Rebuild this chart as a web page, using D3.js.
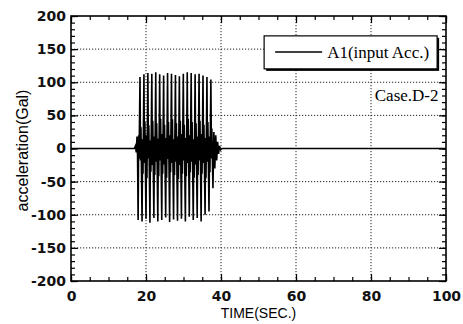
<!DOCTYPE html>
<html>
<head>
<meta charset="utf-8">
<script src="https://cdn.jsdelivr.net/npm/d3@7"></script>
<style>
  body { margin: 0; background: #fff; }
  svg { display: block; }
</style>
</head>
<body>
<div id="chart"></div>
<script>
// axis ranges and ticks
const xDomain = [0, 100];
const yDomain = [-200, 200];
const xMajor = [0, 20, 40, 60, 80, 100];
const yMajor = [-200, -150, -100, -50, 0, 50, 100, 150, 200];
const xGrid = [20, 40, 60, 80];
const yGrid = [-150, -100, -50, 50, 100, 150];

// A1 input acceleration record, [time (s), acceleration (Gal)]
const accel = [
  [0, 0], [10, 0], [16.9, 0], [17.2, 4], [17.4, -6], [17.6, 18], [17.75, -12], [17.9, -108],
  [18.05, 20], [18.15, -15], [18.4, 108], [18.55, -18], [18.65, 32], [18.95, -110], [19.1, 14], [19.2, -38],
  [19.45, 112], [19.6, -22], [19.7, 40], [20.0, -106], [20.15, 20], [20.25, -45],
  [20.5, 114], [20.65, -15], [20.75, 35], [21.05, -112], [21.2, 12], [21.3, -35],
  [21.55, 113], [21.7, -25], [21.8, 42], [22.1, -105], [22.25, 18], [22.35, -40],
  [22.6, 115], [22.75, -20], [22.85, 38], [23.15, -110], [23.3, 15], [23.4, -42],
  [23.65, 112], [23.8, -18], [23.9, 45], [24.2, -108], [24.35, 22], [24.45, -38],
  [24.7, 110], [24.85, -24], [24.95, 36], [25.25, -104], [25.4, 16], [25.5, -44],
  [25.75, 114], [25.9, -16], [26.0, 40], [26.3, -111], [26.45, 20], [26.55, -36],
  [26.8, 113], [26.95, -22], [27.05, 44], [27.35, -107], [27.5, 14], [27.6, -40],
  [27.85, 111], [28.0, -20], [28.1, 38], [28.4, -109], [28.55, 18], [28.65, -46],
  [28.9, 109], [29.05, -25], [29.15, 42], [29.45, -106], [29.6, 22], [29.7, -38],
  [29.95, 113], [30.1, -18], [30.2, 36], [30.5, -110], [30.65, 16], [30.75, -42],
  [31.0, 115], [31.15, -22], [31.25, 45], [31.55, -103], [31.7, 20], [31.8, -36],
  [32.05, 114], [32.2, -20], [32.3, 40], [32.6, -108], [32.75, 14], [32.85, -44],
  [33.1, 112], [33.25, -24], [33.35, 38], [33.65, -105], [33.8, 18], [33.9, -40],
  [34.15, 113], [34.3, -18], [34.4, 42], [34.7, -110], [34.85, 22], [34.95, -38],
  [35.2, 110], [35.35, -22], [35.45, 36], [35.75, -100], [35.9, 16], [36.0, -45],
  [36.25, 108], [36.4, -20], [36.5, 40], [36.8, -95], [36.95, 18], [37.05, -36],
  [37.3, 104], [37.45, -15], [37.55, 30], [37.85, -60],
  [38.1, 25], [38.35, -30], [38.6, 20], [38.85, -18], [39.1, 10], [39.35, -8],
  [39.6, 4], [39.9, -2], [40.3, 0], [100, 0]
];

const legendLabel = "A1(input Acc.)";
const caseLabel = "Case.D-2";
const xTitle = "TIME(SEC.)";
const yTitle = "acceleration(Gal)";

const W = 463, H = 324;
const margin = { top: 16, right: 17, bottom: 43, left: 71 };
const width = W - margin.left - margin.right;
const height = H - margin.top - margin.bottom;

const svg = d3.select("#chart").append("svg")
  .attr("width", W)
  .attr("height", H);

const g = svg.append("g")
  .attr("transform", "translate(" + margin.left + "," + margin.top + ")");

const x = d3.scaleLinear().domain(xDomain).range([0, width]);
const y = d3.scaleLinear().domain(yDomain).range([height, 0]);

// dotted grid
g.append("g").selectAll("line.vg")
  .data(xGrid).join("line")
  .attr("x1", d => x(d)).attr("x2", d => x(d))
  .attr("y1", 0).attr("y2", height)
  .attr("stroke", "#222").attr("stroke-width", 1)
  .attr("stroke-dasharray", "1.2,1.8");

g.append("g").selectAll("line.hg")
  .data(yGrid).join("line")
  .attr("x1", 0).attr("x2", width)
  .attr("y1", d => y(d)).attr("y2", d => y(d))
  .attr("stroke", "#222").attr("stroke-width", 1)
  .attr("stroke-dasharray", "1.2,1.8");

// minor / major inward ticks on all four sides
const xMinor = d3.range(0, 101, 5);
const yMinor = d3.range(-200, 201, 10);

function ticks(axisFn, scale, vals, size, tr) {
  const a = g.append("g")
    .attr("transform", tr)
    .call(axisFn(scale).tickValues(vals).tickSize(size).tickFormat(""));
  a.select(".domain").remove();
  a.selectAll("line").attr("stroke", "#000").attr("stroke-width", 1.2);
}
ticks(d3.axisBottom, x, xMinor, -4, "translate(0," + height + ")");
ticks(d3.axisTop, x, xMinor, -4, "translate(0,0)");
ticks(d3.axisLeft, y, yMinor, -4, "translate(0,0)");
ticks(d3.axisRight, y, yMinor, -4, "translate(" + width + ",0)");

// labelled axes (plain hyphen minus like the original)
const fmt = d => String(d);
const xAxis = g.append("g")
  .attr("transform", "translate(0," + height + ")")
  .call(d3.axisBottom(x).tickValues(xMajor).tickSize(-7).tickPadding(7).tickFormat(fmt));
const yAxis = g.append("g")
  .call(d3.axisLeft(y).tickValues(yMajor).tickSize(-7).tickPadding(5).tickFormat(fmt));
ticks(d3.axisTop, x, xMajor, -7, "translate(0,0)");
ticks(d3.axisRight, y, yMajor, -7, "translate(" + width + ",0)");

[xAxis, yAxis].forEach(a => {
  a.select(".domain").remove();
  a.selectAll("line").attr("stroke", "#000").attr("stroke-width", 1.2);
  a.selectAll("text")
    .attr("fill", "#111")
    .style("font-family", "'DejaVu Sans', sans-serif")
    .style("font-weight", "bold")
    .style("font-size", "14px");
});
xAxis.selectAll("text").attr("dy", "0.9em");

// signal
const line = d3.line()
  .x(d => x(d[0]))
  .y(d => y(d[1]));

g.append("path")
  .datum(accel)
  .attr("d", line)
  .attr("fill", "none")
  .attr("stroke", "#000")
  .attr("stroke-width", 1.6);

// frame
g.append("rect")
  .attr("x", 0).attr("y", 0)
  .attr("width", width).attr("height", height)
  .attr("fill", "none")
  .attr("stroke", "#000")
  .attr("stroke-width", 1.6);

// legend
const lg = g.append("g").attr("transform", "translate(" + (x(51.5)) + "," + (y(170)) + ")");
lg.append("rect")
  .attr("x", 2).attr("y", 2).attr("width", 173).attr("height", 33)
  .attr("fill", "#000");
lg.append("rect")
  .attr("x", 0).attr("y", 0).attr("width", 173).attr("height", 33)
  .attr("fill", "#fff").attr("stroke", "#000").attr("stroke-width", 1.2);
lg.append("line")
  .attr("x1", 11).attr("x2", 58).attr("y1", 16).attr("y2", 16)
  .attr("stroke", "#000").attr("stroke-width", 1.5);
lg.append("text")
  .attr("x", 63).attr("y", 22)
  .style("font-family", "'Liberation Serif', 'Times New Roman', serif")
  .style("font-size", "17px")
  .text(legendLabel);

g.append("text")
  .attr("x", x(98)).attr("y", y(72))
  .attr("text-anchor", "end")
  .style("font-family", "'Liberation Serif', 'Times New Roman', serif")
  .style("font-size", "17px")
  .text(caseLabel);

// axis titles
svg.append("text")
  .attr("x", margin.left + x(50)).attr("y", 318)
  .attr("text-anchor", "middle")
  .style("font-family", "'Liberation Sans', Arial, sans-serif")
  .style("font-size", "14px")
  .text(xTitle);

svg.append("text")
  .attr("transform", "translate(27.5," + (margin.top + y(-3)) + ") rotate(-90)")
  .attr("text-anchor", "middle")
  .style("font-family", "'Liberation Sans', Arial, sans-serif")
  .style("font-size", "16px")
  .text(yTitle);
</script>
</body>
</html>
